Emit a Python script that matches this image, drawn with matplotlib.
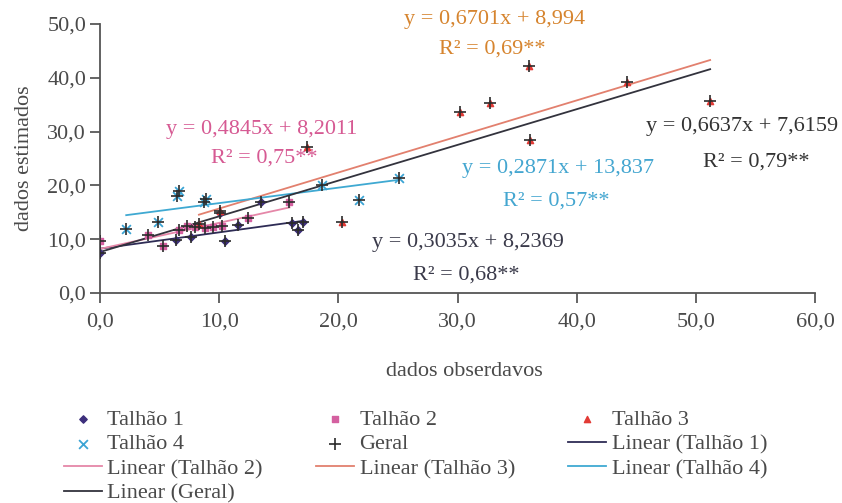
import numpy as np
import matplotlib
matplotlib.use('Agg')
import matplotlib.pyplot as plt

plt.rcParams['font.family'] = ['Liberation Serif', 'DejaVu Serif']

t1_x = [0.0, 6.4, 7.6, 10.1, 10.5, 11.6, 13.5, 16.1, 16.6, 17.0]
t1_y = [7.4, 9.9, 10.4, 14.8, 9.7, 12.6, 16.9, 13.0, 11.7, 13.2]
t2_x = [0.0, 4.0, 5.3, 6.6, 7.3, 8.0, 8.8, 9.5, 10.2, 12.4, 15.9]
t2_y = [9.7, 10.8, 8.7, 11.7, 12.5, 12.3, 12.0, 12.2, 12.4, 13.9, 17.0]
t3_x = [8.3, 10.1, 17.4, 20.3, 30.2, 32.7, 36.0, 36.1, 44.2, 51.2]
t3_y = [12.8, 15.3, 27.2, 13.2, 33.6, 35.3, 42.2, 28.4, 39.2, 35.7]
t4_x = [2.2, 4.9, 6.5, 6.6, 8.7, 8.9, 18.6, 21.7, 25.1]
t4_y = [11.9, 13.2, 18.0, 19.0, 17.0, 17.5, 20.1, 17.3, 21.4]
geral_x = t1_x + t2_x + t3_x + t4_x
geral_y = t1_y + t2_y + t3_y + t4_y

# equacoes de regressao (Talhao 1..4, Geral)
slopes = [0.3035, 0.4845, 0.6701, 0.2871, 0.6637]
inters = [8.2369, 8.2011, 8.994, 13.837, 7.6159]
eq_txt = ['y = 0,3035x + 8,2369', 'y = 0,4845x + 8,2011', 'y = 0,6701x + 8,994',
          'y = 0,2871x + 13,837', 'y = 0,6637x + 7,6159']
r2_txt = ['R² = 0,68**', 'R² = 0,75**', 'R² = 0,69**', 'R² = 0,57**', 'R² = 0,79**']
eq_pos = [(30.9, 9.3), (13.6, 30.3), (33.1, 50.9), (38.4, 23.2), (53.9, 31.0)]
r2_pos = [(30.7, 3.4), (13.8, 25.1), (32.9, 45.4), (38.3, 17.1), (55.1, 24.4)]

line_cols = ['#2e2c55', '#e587a8', '#e2806e', '#3fa9d2', '#33333d']
text_cols = ['#3a3a4a', '#d65a93', '#d6842e', '#44a6d0', '#333333']
fs = 16

fig = plt.figure(figsize=(8.42, 5.03), dpi=100)
ax = fig.add_axes([100/842, 1-293/503, 715/842, 269/503])

xs = [t1_x, t2_x, t3_x, t4_x, geral_x]
ys = [t1_y, t2_y, t3_y, t4_y, geral_y]

h1 = ax.scatter(t1_x, t1_y, marker='D', s=14, color='#3d2f7c', zorder=3)
h2 = ax.scatter(t2_x, t2_y, marker='s', s=16, color='#d460a0', zorder=3)
h3 = ax.scatter(t3_x, t3_y, marker='^', s=20, color='#e23a35', zorder=3)
h4 = ax.scatter(t4_x, t4_y, marker='x', s=40, color='#3ba4d4', linewidths=1.3, zorder=3)
hg = ax.scatter(geral_x, geral_y, marker='+', s=70, color='#2b2b2b', linewidths=1.2, zorder=4)

lines = []
for i in range(5):
    xx = np.array([min(xs[i]), max(xs[i])])
    ln, = ax.plot(xx, slopes[i]*xx + inters[i], color=line_cols[i], lw=1.3, zorder=2)
    lines.append(ln)
    ax.text(eq_pos[i][0], eq_pos[i][1], eq_txt[i], color=text_cols[i], fontsize=fs,
            ha='center', va='center', clip_on=False)
    ax.text(r2_pos[i][0], r2_pos[i][1], r2_txt[i], color=text_cols[i], fontsize=fs,
            ha='center', va='center', clip_on=False)

ax.set_xlim(0, 60)
ax.set_ylim(0, 50)
ax.set_xticks(np.arange(0, 61, 10))
ax.set_yticks(np.arange(0, 51, 10))
ax.set_xticklabels([f'{v:.1f}'.replace('.', ',') for v in np.arange(0, 61, 10)])
ax.set_yticklabels([f'{v:.1f}'.replace('.', ',') for v in np.arange(0, 51, 10)])
ax.tick_params(labelsize=fs, colors='#4a4a4a', length=7, width=1.2)
ax.tick_params(axis='y', pad=3)
ax.tick_params(axis='x', pad=7)
for s in ['top', 'right']:
    ax.spines[s].set_visible(False)
for s in ['left', 'bottom']:
    ax.spines[s].set_color('#555555')
    ax.spines[s].set_linewidth(1.3)
ax.set_xlabel('dados obserdavos', fontsize=fs, color='#4a4a4a')
ax.set_ylabel('dados estimados', fontsize=fs, color='#4a4a4a')
ax.xaxis.set_label_coords(0.51, -0.255)
ax.yaxis.set_label_coords(-0.092, 0.5)

handles = [h1, h4, lines[1], lines[4], h2, hg, lines[2], h3, lines[0], lines[3]]
labels = ['Talhão 1', 'Talhão 4', 'Linear (Talhão 2)', 'Linear (Geral)',
          'Talhão 2', 'Geral', 'Linear (Talhão 3)',
          'Talhão 3', 'Linear (Talhão 1)', 'Linear (Talhão 4)']
leg = fig.legend(handles, labels, ncol=3, loc='upper left', bbox_to_anchor=(64/842, 1-409/503),
                 frameon=False, fontsize=fs, handlelength=1.7, handletextpad=0.25,
                 columnspacing=2.4, labelspacing=0.19, borderpad=0, borderaxespad=0)
for t in leg.get_texts():
    t.set_color('#4a4a4a')

fig.savefig('out.png', dpi=100)
